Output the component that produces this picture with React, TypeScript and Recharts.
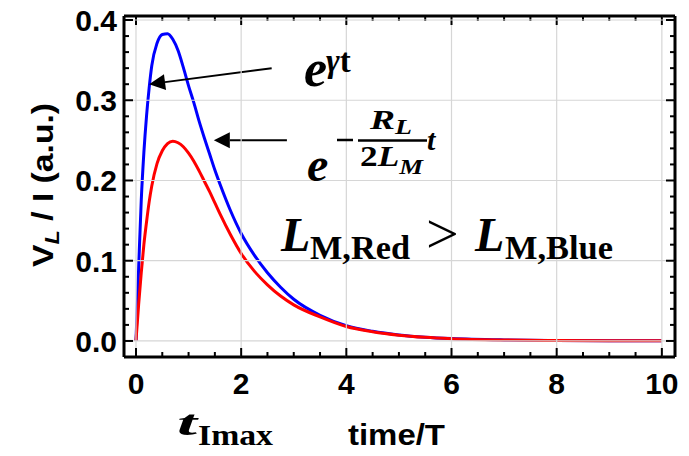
import React from "react";
import { LineChart, Line, XAxis, YAxis, ReferenceLine } from "recharts";

// time/T samples and the two V_L/I curves
const times = [0, 0.05, 0.1, 0.15, 0.2, 0.25, 0.3, 0.4, 0.5, 0.6, 0.7, 0.8, 0.9, 1.0, 1.1, 1.2, 1.3, 1.4, 1.5, 1.6, 1.8, 2.0, 2.25, 2.5, 2.75, 3.0, 3.5, 4.0, 4.5, 5.0, 5.5, 6.0, 7.0, 8.0, 9.0, 10.0];
const blueValues = [0, 0.09, 0.175, 0.235, 0.28, 0.315, 0.343, 0.371, 0.382, 0.383, 0.376, 0.362, 0.341, 0.318, 0.297, 0.274, 0.253, 0.233, 0.213, 0.195, 0.162, 0.134, 0.107, 0.085, 0.067, 0.052, 0.032, 0.019, 0.012, 0.0075, 0.0047, 0.003, 0.0013, 0.0006, 0.0003, 0.0001];
const redValues = [0, 0.045, 0.085, 0.12, 0.148, 0.173, 0.193, 0.221, 0.237, 0.246, 0.249, 0.247, 0.242, 0.234, 0.224, 0.212, 0.199, 0.186, 0.172, 0.158, 0.132, 0.109, 0.087, 0.07, 0.056, 0.045, 0.03, 0.018, 0.0115, 0.0072, 0.0045, 0.0028, 0.0012, 0.0006, 0.0003, 0.0001];

const xMajor = [0, 2, 4, 6, 8, 10];
const yMajor = [0, 0.1, 0.2, 0.3, 0.4];
const xTicks = Array.from({ length: 21 }, (_, i) => i * 0.5);
const yTicks = Array.from({ length: 21 }, (_, i) => Math.round(i * 2) / 100);

const X_DOMAIN: [number, number] = [-0.228, 10.25];
const Y_DOMAIN: [number, number] = [-0.02, 0.405];

// arrows: [from t, from v, to t, to v]
const arrows = [
  [2.58, 0.34, 0.25, 0.32],
  [2.87, 0.25, 1.48, 0.25],
];

const data = times.map((t, i) => ({ t, blue: blueValues[i], red: redValues[i] }));

const LABEL_FONT = "'Liberation Sans', Arial, sans-serif";
const MATH_FONT = "'Liberation Serif', 'Times New Roman', serif";
const GRID_COLOR = "#d6d6d6";

const isMajorX = (v: number) => xMajor.some((m) => Math.abs(m - v) < 1e-6);
const isMajorY = (v: number) => yMajor.some((m) => Math.abs(m - v) < 1e-6);

// bottom ticks also carry the vertical grid line for major values
const BottomTick = (props: any) => {
  const { x, y, payload } = props;
  const major = isMajorX(payload.value);
  return (
    <g>
      {major && <line x1={x} y1={y} x2={x} y2={16} stroke={GRID_COLOR} strokeWidth={1.2} />}
      <line x1={x} y1={y} x2={x} y2={y - (major ? 9 : 5)} stroke="#000" strokeWidth={2} />
      {major && (
        <text x={x} y={y + 37} textAnchor="middle" fontFamily={LABEL_FONT} fontWeight="bold" fontSize={30} fill="#000">
          {payload.value}
        </text>
      )}
    </g>
  );
};

const TopTick = (props: any) => {
  const { x, y, payload } = props;
  const major = isMajorX(payload.value);
  return <line x1={x} y1={y} x2={x} y2={y + (major ? 9 : 5)} stroke="#000" strokeWidth={2} />;
};

// left ticks also carry the horizontal grid line for major values
const LeftTick = (props: any) => {
  const { x, y, payload } = props;
  const major = isMajorY(payload.value);
  return (
    <g>
      {major && <line x1={x} y1={y} x2={675} y2={y} stroke={GRID_COLOR} strokeWidth={1.2} />}
      <line x1={x} y1={y} x2={x + (major ? 9 : 5)} y2={y} stroke="#000" strokeWidth={2} />
      {major && (
        <text x={x - 7} y={y + 11} textAnchor="end" fontFamily={LABEL_FONT} fontWeight="bold" fontSize={30} fill="#000">
          {payload.value.toFixed(1)}
        </text>
      )}
    </g>
  );
};

const RightTick = (props: any) => {
  const { x, y, payload } = props;
  const major = isMajorY(payload.value);
  return <line x1={x} y1={y} x2={x - (major ? 9 : 5)} y2={y} stroke="#000" strokeWidth={2} />;
};

const Arrow = (props: any) => {
  const { x1, y1, x2, y2 } = props;
  const dx = x2 - x1;
  const dy = y2 - y1;
  const len = Math.sqrt(dx * dx + dy * dy);
  const ux = dx / len;
  const uy = dy / len;
  const hl = 16;
  const hw = 8;
  const bx = x2 - ux * hl;
  const by = y2 - uy * hl;
  const pts = `${x2},${y2} ${bx - uy * hw},${by + ux * hw} ${bx + uy * hw},${by - ux * hw}`;
  return (
    <g>
      <line x1={x1} y1={y1} x2={bx} y2={by} stroke="#000" strokeWidth={2} />
      <polygon points={pts} fill="#000" />
    </g>
  );
};

export default function App() {
  return (
    <div style={{ position: "absolute", left: 0, top: 0, width: 689, height: 456, background: "#fff" }}>
      <LineChart width={689} height={456} data={data} margin={{ top: 14, right: 12, bottom: 59, left: 64 }}>
        <XAxis
          xAxisId="b"
          dataKey="t"
          type="number"
          domain={X_DOMAIN}
          ticks={xTicks}
          interval={0}
          height={40}
          tickSize={0}
          tickMargin={0}
          tickLine={false}
          axisLine={{ stroke: "#000", strokeWidth: 3 }}
          tick={<BottomTick />}
          allowDataOverflow
        />
        <XAxis
          xAxisId="t"
          orientation="top"
          dataKey="t"
          type="number"
          domain={X_DOMAIN}
          ticks={xTicks}
          interval={0}
          height={2}
          tickSize={0}
          tickMargin={0}
          tickLine={false}
          axisLine={{ stroke: "#000", strokeWidth: 3 }}
          tick={<TopTick />}
          allowDataOverflow
        />
        <YAxis
          yAxisId="l"
          type="number"
          domain={Y_DOMAIN}
          ticks={yTicks}
          interval={0}
          width={60}
          tickSize={0}
          tickMargin={0}
          tickLine={false}
          axisLine={{ stroke: "#000", strokeWidth: 3 }}
          tick={<LeftTick />}
          allowDataOverflow
        />
        <YAxis
          yAxisId="r"
          orientation="right"
          type="number"
          domain={Y_DOMAIN}
          ticks={yTicks}
          interval={0}
          width={2}
          tickSize={0}
          tickMargin={0}
          tickLine={false}
          axisLine={{ stroke: "#000", strokeWidth: 3 }}
          tick={<RightTick />}
          allowDataOverflow
        />
        <Line xAxisId="b" yAxisId="l" type="monotone" dataKey="blue" stroke="#0000ff" strokeWidth={3} dot={false} isAnimationActive={false} />
        <Line xAxisId="b" yAxisId="l" type="monotone" dataKey="red" stroke="#ff0000" strokeWidth={3} dot={false} isAnimationActive={false} />
        {arrows.map((a, i) => (
          <ReferenceLine
            key={`ar${i}`}
            xAxisId="b"
            yAxisId="l"
            segment={[{ x: a[0], y: a[1] }, { x: a[2], y: a[3] }]}
            shape={(p: any) => <Arrow {...p} />}
          />
        ))}
      </LineChart>
      <svg width={689} height={456} style={{ position: "absolute", left: 0, top: 0, pointerEvents: "none" }}>
        {/* axis titles */}
        <text
          transform="translate(53,185) rotate(-90)"
          textAnchor="middle"
          fontFamily={LABEL_FONT}
          fontWeight="bold"
          fontSize={30}
          fill="#000"
          textLength={164}
          lengthAdjust="spacingAndGlyphs"
        >
          V<tspan fontStyle="italic" fontSize={21} dy={6}>L</tspan>
          <tspan dy={-6}> / I (a.u.)</tspan>
        </text>
        <text x={348} y={445} fontFamily={LABEL_FONT} fontWeight="bold" fontSize={29} fill="#000" textLength={97} lengthAdjust="spacingAndGlyphs">
          time/T
        </text>
        <text x={177} y={435} fontFamily={MATH_FONT} fontWeight="bold" fontStyle="italic" fontSize={36} fill="#000" textLength={20} lengthAdjust="spacingAndGlyphs">
          t
        </text>
        <text x={198} y={445} fontFamily={MATH_FONT} fontWeight="bold" fontSize={30} fill="#000" textLength={75} lengthAdjust="spacingAndGlyphs">
          Imax
        </text>
        {/* e^{gamma t} */}
        <text x={304} y={86} fontFamily={MATH_FONT} fontWeight="bold" fontStyle="italic" fontSize={52} fill="#000">
          e
        </text>
        <text x={326} y={72} fontFamily={MATH_FONT} fontWeight="bold" fontSize={33} fill="#000">
          <tspan fontStyle="italic">γ</tspan>t
        </text>
        {/* e^{-R_L/(2L_M) t} */}
        <text x={307} y={181} fontFamily={MATH_FONT} fontWeight="bold" fontStyle="italic" fontSize={48} fill="#000">
          e
        </text>
        <line x1={337} y1={140} x2={353} y2={140} stroke="#000" strokeWidth={2.5} />
        <text x={370} y={129} fontFamily={MATH_FONT} fontWeight="bold" fontStyle="italic" fontSize={27} fill="#000" textLength={42} lengthAdjust="spacingAndGlyphs">
          R<tspan fontSize={20} dy={5}>L</tspan>
        </text>
        <line x1={358} y1={140.5} x2={427} y2={140.5} stroke="#000" strokeWidth={2.5} />
        <text x={360} y={166} fontFamily={MATH_FONT} fontWeight="bold" fontStyle="italic" fontSize={29} fill="#000" textLength={63} lengthAdjust="spacingAndGlyphs">
          <tspan fontStyle="normal">2</tspan>L<tspan fontSize={22} dy={8}>M</tspan>
        </text>
        <text x={427} y={150} fontFamily={MATH_FONT} fontWeight="bold" fontStyle="italic" fontSize={30} fill="#000">
          t
        </text>
        {/* L_{M,Red} > L_{M,Blue} */}
        <text x={281} y={251} fontFamily={MATH_FONT} fontWeight="bold" fontStyle="italic" fontSize={48} fill="#000">
          L
        </text>
        <text x={310} y={259} fontFamily={MATH_FONT} fontWeight="bold" fontSize={34} fill="#000" textLength={100} lengthAdjust="spacingAndGlyphs">
          M,Red
        </text>
        <text x={426} y={253} fontFamily={MATH_FONT} fontSize={58} fill="#000">
          &gt;
        </text>
        <text x={475} y={251} fontFamily={MATH_FONT} fontWeight="bold" fontStyle="italic" fontSize={48} fill="#000">
          L
        </text>
        <text x={505} y={259} fontFamily={MATH_FONT} fontWeight="bold" fontSize={34} fill="#000" textLength={108} lengthAdjust="spacingAndGlyphs">
          M,Blue
        </text>
      </svg>
    </div>
  );
}
